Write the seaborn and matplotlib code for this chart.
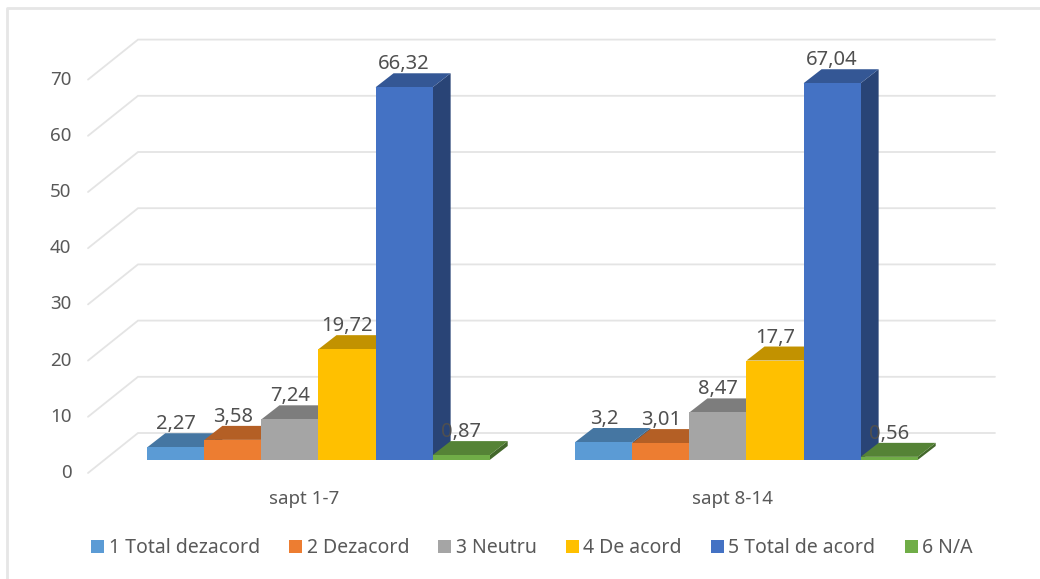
import numpy as np
import pandas as pd
import matplotlib
matplotlib.use("Agg")
import matplotlib.pyplot as plt
from matplotlib.colors import to_rgb
from matplotlib.lines import Line2D
from matplotlib.transforms import ScaledTranslation
import seaborn as sns

weeks = ["sapt 1-7", "sapt 8-14"]
series = ["1 Total dezacord", "2 Dezacord", "3 Neutru", "4 De acord", "5 Total de acord", "6 N/A"]
week1 = [2.27, 3.58, 7.24, 19.72, 66.32, 0.87]
week2 = [3.2, 3.01, 8.47, 17.7, 67.04, 0.56]
colors = ["#5B9BD5", "#ED7D31", "#A5A5A5", "#FFC000", "#4472C4", "#70AD47"]
yticks = [0, 10, 20, 30, 40, 50, 60, 70]

W, H = 1040, 579
sns.set_theme(style="white")
plt.rcParams["font.family"] = ["Noto Sans", "DejaVu Sans"]
TXT = "#595959"
GRID = "#e4e4e4"

df = pd.DataFrame({
    "week": [w for w in weeks for _ in series],
    "series": series * 2,
    "value": week1 + week2,
})

fig = plt.figure(figsize=(W / 100, H / 100), dpi=100, facecolor="white")
PX_L, PX_R, PX_T, PX_B = 88, 995, 40, 473
ax = fig.add_axes([PX_L / W, 1 - PX_B / H, (PX_R - PX_L) / W, (PX_B - PX_T) / H])

sns.barplot(data=df, x="week", y="value", hue="series", order=weeks, hue_order=series,
            palette=colors, width=0.8, gap=0, saturation=1, errorbar=None, ax=ax, legend=False)

PX_X = 428.0
PX_Y = 5.62
X0 = 318.5
Y0 = 460.0
ax.set_xlim((PX_L - X0) / PX_X, (PX_R - X0) / PX_X)
ax.set_ylim((Y0 - PX_B) / PX_Y, (Y0 - PX_T) / PX_Y)

bar_dx, bar_dy = 18 / PX_X, 14 / PX_Y
wall_dx, wall_dy = 50 / PX_X, 40 / PX_Y
front_y = (Y0 - PX_B) / PX_Y

x_left, x_right = ax.get_xlim()
for t in yticks:
    yf = t + front_y
    yb = yf + wall_dy
    ax.plot([x_left, x_left + wall_dx, x_right], [yf, yb, yb], color=GRID, lw=1.3,
            zorder=1, clip_on=False, solid_joinstyle="miter")


def shade(c, f):
    return tuple(v * f for v in to_rgb(c))


for i, cont in enumerate(ax.containers):
    for p in cont.patches:
        x, w, h = p.get_x(), p.get_width(), p.get_height()
        z = 3 + i
        p.set_zorder(z + 0.2)
        p.set_edgecolor("none")
        ax.fill([x + w, x + w + bar_dx, x + w + bar_dx, x + w],
                [0, bar_dy, h + bar_dy, h], color=shade(colors[i], 0.6), lw=0, zorder=z, clip_on=False)
        ax.fill([x, x + w, x + w + bar_dx, x + bar_dx],
                [h, h, h + bar_dy, h + bar_dy], color=shade(colors[i], 0.76), lw=0, zorder=z + 0.1, clip_on=False)
        ax.annotate(format(h, "g").replace(".", ","), (x + w / 2, h), xytext=(0, 16.5),
                    textcoords="offset points", ha="center", va="center",
                    fontsize=14.5, color="#505050", zorder=20, annotation_clip=False)

ax.set_yticks([t + front_y for t in yticks], [str(t) for t in yticks])
ax.set_xticks([k - 14 / PX_X for k in range(len(weeks))], weeks)
ax.tick_params(axis="y", length=0, pad=12, labelsize=13.5, labelcolor=TXT)
ax.tick_params(axis="x", length=0, pad=12, labelsize=13.5, labelcolor=TXT)
up = ScaledTranslation(0, 1.5 / 72, fig.dpi_scale_trans)
for lbl in ax.get_yticklabels():
    lbl.set_transform(lbl.get_transform() + up)
ax.set_xlabel("")
ax.set_ylabel("")
sns.despine(ax=ax, left=True, bottom=True, top=True, right=True)
ax.patch.set_alpha(0)

handles = [c.patches[0] for c in ax.containers]
fig.legend(handles, series, loc="center", bbox_to_anchor=(532 / W, 1 - 548 / H), ncols=6,
           frameon=False, fontsize=14, labelcolor=TXT, handlelength=0.67, handleheight=0.67,
           handletextpad=0.23, columnspacing=1.5, borderpad=0)

# chart frame: only its top and left edges fall inside the picture
fig.add_artist(Line2D([7 / W, 7 / W, 1], [0, 1 - 8 / H, 1 - 8 / H], transform=fig.transFigure,
                      color="#e6e6e6", lw=2))

fig.savefig("out.png", dpi=100)
